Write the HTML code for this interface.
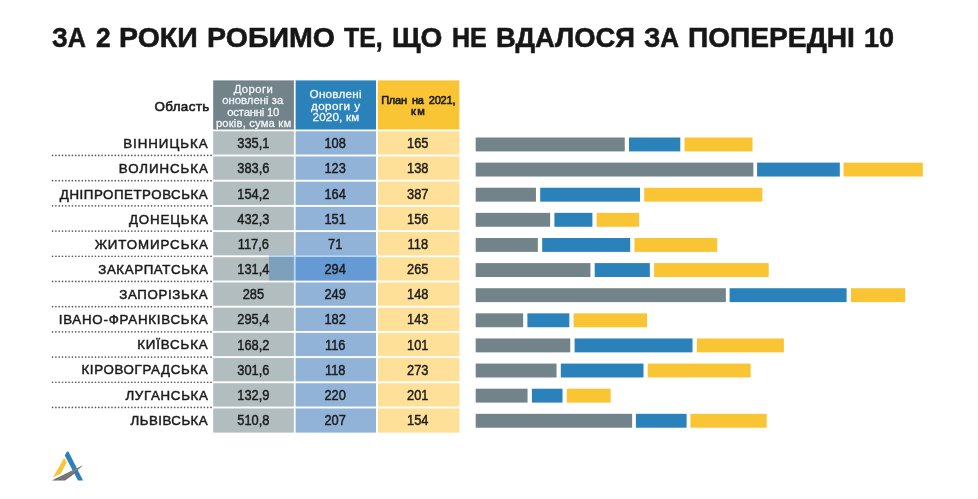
<!DOCTYPE html>
<html lang="uk"><head><meta charset="utf-8"><title>За 2 роки робимо те, що не вдалося за попередні 10</title>
<style>
html,body{margin:0;padding:0;background:#fff;}
body{width:978px;height:499px;position:relative;overflow:hidden;font-family:"Liberation Sans",sans-serif;color:#1c1c1c;}
#pg{position:absolute;left:0;top:0;width:978px;height:499px;filter:blur(0.45px);}
.abs{position:absolute;}
h1{position:absolute;left:0;top:21.2px;width:978px;height:34px;margin:0;font-size:26.8px;line-height:34px;font-weight:bold;white-space:nowrap;color:#171717;}
h1 span{position:absolute;top:0;transform-origin:0 50%;-webkit-text-stroke:0.55px #171717;}
.hc{position:absolute;top:80.4px;height:49.1px;}
.hc span{display:block;position:absolute;white-space:nowrap;}
.lab{position:absolute;font-size:13.3px;line-height:23.4px;height:23.4px;white-space:nowrap;-webkit-text-stroke:0.5px #1c1c1c;}
.cell{position:absolute;height:23.4px;line-height:25.4px;text-align:center;font-size:13.8px;transform:scaleX(0.93);-webkit-text-stroke:0.45px #1c1c1c;}
</style></head><body><div id="pg">
<h1><span style="left:52.44px;transform:scaleX(0.9398);">ЗА</span> <span style="left:95.91px;transform:scaleX(0.9834);">2</span> <span style="left:119.09px;transform:scaleX(1.0636);">РОКИ</span> <span style="left:207.49px;transform:scaleX(1.0655);">РОБИМО</span> <span style="left:344.49px;transform:scaleX(0.926);">ТЕ,</span> <span style="left:391.71px;transform:scaleX(1.0463);">ЩО</span> <span style="left:451.57px;transform:scaleX(0.9348);">НЕ</span> <span style="left:496.25px;transform:scaleX(1.022);">ВДАЛОСЯ</span> <span style="left:644.23px;transform:scaleX(0.9711);">ЗА</span> <span style="left:688.21px;transform:scaleX(1.05);">ПОПЕРЕДНІ</span> <span style="left:863.67px;transform:scaleX(1.0088);">10</span></h1>
<svg class="abs" style="left:0;top:0;" width="978" height="499" viewBox="0 0 978 499">
<rect x="213.20" y="80.40" width="80.70" height="49.10" fill="#72838a"/>
<rect x="295.60" y="80.40" width="80.40" height="49.10" fill="#2b81b9"/>
<rect x="377.80" y="80.40" width="81.60" height="49.10" fill="#f9c535"/>
<rect x="213.20" y="131.25" width="80.70" height="23.30" fill="#b1bdbe"/>
<rect x="295.60" y="131.25" width="80.40" height="23.30" fill="#91b3d8"/>
<rect x="377.80" y="131.25" width="81.60" height="23.30" fill="#fee098"/>
<line x1="52.6" x2="211.4" y1="155.45" y2="155.45" stroke="#5e5e5e" stroke-width="1.7" stroke-linecap="round" stroke-dasharray="0 3.3"/>
<rect x="475.70" y="137.50" width="149.05" height="13.90" fill="#72838a"/>
<rect x="629.00" y="137.50" width="51.30" height="13.90" fill="#2b81b9"/>
<rect x="684.50" y="137.50" width="68.00" height="13.90" fill="#f9c535"/>
<rect x="213.20" y="156.45" width="80.70" height="23.30" fill="#b1bdbe"/>
<rect x="295.60" y="156.45" width="80.40" height="23.30" fill="#91b3d8"/>
<rect x="377.80" y="156.45" width="81.60" height="23.30" fill="#fee098"/>
<line x1="52.6" x2="211.4" y1="180.65" y2="180.65" stroke="#5e5e5e" stroke-width="1.7" stroke-linecap="round" stroke-dasharray="0 3.3"/>
<rect x="475.70" y="162.62" width="277.65" height="13.90" fill="#72838a"/>
<rect x="757.10" y="162.62" width="82.70" height="13.90" fill="#2b81b9"/>
<rect x="843.50" y="162.62" width="79.30" height="13.90" fill="#f9c535"/>
<rect x="213.20" y="181.65" width="80.70" height="23.30" fill="#b1bdbe"/>
<rect x="295.60" y="181.65" width="80.40" height="23.30" fill="#91b3d8"/>
<rect x="377.80" y="181.65" width="81.60" height="23.30" fill="#fee098"/>
<line x1="52.6" x2="211.4" y1="205.85" y2="205.85" stroke="#5e5e5e" stroke-width="1.7" stroke-linecap="round" stroke-dasharray="0 3.3"/>
<rect x="475.70" y="187.74" width="60.25" height="13.90" fill="#72838a"/>
<rect x="540.20" y="187.74" width="99.80" height="13.90" fill="#2b81b9"/>
<rect x="644.20" y="187.74" width="118.10" height="13.90" fill="#f9c535"/>
<rect x="213.20" y="206.85" width="80.70" height="23.30" fill="#b1bdbe"/>
<rect x="295.60" y="206.85" width="80.40" height="23.30" fill="#91b3d8"/>
<rect x="377.80" y="206.85" width="81.60" height="23.30" fill="#fee098"/>
<line x1="52.6" x2="211.4" y1="231.05" y2="231.05" stroke="#5e5e5e" stroke-width="1.7" stroke-linecap="round" stroke-dasharray="0 3.3"/>
<rect x="475.70" y="212.86" width="74.45" height="13.90" fill="#72838a"/>
<rect x="554.40" y="212.86" width="38.00" height="13.90" fill="#2b81b9"/>
<rect x="596.60" y="212.86" width="42.50" height="13.90" fill="#f9c535"/>
<rect x="213.20" y="232.05" width="80.70" height="23.30" fill="#b1bdbe"/>
<rect x="295.60" y="232.05" width="80.40" height="23.30" fill="#91b3d8"/>
<rect x="377.80" y="232.05" width="81.60" height="23.30" fill="#fee098"/>
<line x1="52.6" x2="211.4" y1="256.25" y2="256.25" stroke="#5e5e5e" stroke-width="1.7" stroke-linecap="round" stroke-dasharray="0 3.3"/>
<rect x="475.70" y="237.98" width="62.15" height="13.90" fill="#72838a"/>
<rect x="542.20" y="237.98" width="88.00" height="13.90" fill="#2b81b9"/>
<rect x="634.40" y="237.98" width="82.80" height="13.90" fill="#f9c535"/>
<rect x="213.20" y="257.25" width="80.70" height="23.30" fill="#b1bdbe"/>
<rect x="295.60" y="257.25" width="80.40" height="23.30" fill="#91b3d8"/>
<rect x="377.80" y="257.25" width="81.60" height="23.30" fill="#fee098"/>
<line x1="52.6" x2="211.4" y1="281.45" y2="281.45" stroke="#5e5e5e" stroke-width="1.7" stroke-linecap="round" stroke-dasharray="0 3.3"/>
<rect x="475.70" y="263.10" width="114.75" height="13.90" fill="#72838a"/>
<rect x="594.70" y="263.10" width="55.10" height="13.90" fill="#2b81b9"/>
<rect x="654.10" y="263.10" width="114.60" height="13.90" fill="#f9c535"/>
<rect x="213.20" y="282.45" width="80.70" height="23.30" fill="#b1bdbe"/>
<rect x="295.60" y="282.45" width="80.40" height="23.30" fill="#91b3d8"/>
<rect x="377.80" y="282.45" width="81.60" height="23.30" fill="#fee098"/>
<line x1="52.6" x2="211.4" y1="306.65" y2="306.65" stroke="#5e5e5e" stroke-width="1.7" stroke-linecap="round" stroke-dasharray="0 3.3"/>
<rect x="475.70" y="288.22" width="250.15" height="13.90" fill="#72838a"/>
<rect x="729.60" y="288.22" width="117.00" height="13.90" fill="#2b81b9"/>
<rect x="850.90" y="288.22" width="54.30" height="13.90" fill="#f9c535"/>
<rect x="213.20" y="307.65" width="80.70" height="23.30" fill="#b1bdbe"/>
<rect x="295.60" y="307.65" width="80.40" height="23.30" fill="#91b3d8"/>
<rect x="377.80" y="307.65" width="81.60" height="23.30" fill="#fee098"/>
<line x1="52.6" x2="211.4" y1="331.85" y2="331.85" stroke="#5e5e5e" stroke-width="1.7" stroke-linecap="round" stroke-dasharray="0 3.3"/>
<rect x="475.70" y="313.34" width="47.45" height="13.90" fill="#72838a"/>
<rect x="527.40" y="313.34" width="41.90" height="13.90" fill="#2b81b9"/>
<rect x="573.60" y="313.34" width="73.40" height="13.90" fill="#f9c535"/>
<rect x="213.20" y="332.85" width="80.70" height="23.30" fill="#b1bdbe"/>
<rect x="295.60" y="332.85" width="80.40" height="23.30" fill="#91b3d8"/>
<rect x="377.80" y="332.85" width="81.60" height="23.30" fill="#fee098"/>
<line x1="52.6" x2="211.4" y1="357.05" y2="357.05" stroke="#5e5e5e" stroke-width="1.7" stroke-linecap="round" stroke-dasharray="0 3.3"/>
<rect x="475.70" y="338.46" width="94.55" height="13.90" fill="#72838a"/>
<rect x="574.60" y="338.46" width="117.90" height="13.90" fill="#2b81b9"/>
<rect x="696.80" y="338.46" width="87.10" height="13.90" fill="#f9c535"/>
<rect x="213.20" y="358.05" width="80.70" height="23.30" fill="#b1bdbe"/>
<rect x="295.60" y="358.05" width="80.40" height="23.30" fill="#91b3d8"/>
<rect x="377.80" y="358.05" width="81.60" height="23.30" fill="#fee098"/>
<line x1="52.6" x2="211.4" y1="382.25" y2="382.25" stroke="#5e5e5e" stroke-width="1.7" stroke-linecap="round" stroke-dasharray="0 3.3"/>
<rect x="475.70" y="363.58" width="80.85" height="13.90" fill="#72838a"/>
<rect x="560.80" y="363.58" width="82.70" height="13.90" fill="#2b81b9"/>
<rect x="647.70" y="363.58" width="102.90" height="13.90" fill="#f9c535"/>
<rect x="213.20" y="383.25" width="80.70" height="23.30" fill="#b1bdbe"/>
<rect x="295.60" y="383.25" width="80.40" height="23.30" fill="#91b3d8"/>
<rect x="377.80" y="383.25" width="81.60" height="23.30" fill="#fee098"/>
<line x1="52.6" x2="211.4" y1="407.45" y2="407.45" stroke="#5e5e5e" stroke-width="1.7" stroke-linecap="round" stroke-dasharray="0 3.3"/>
<rect x="475.70" y="388.70" width="51.85" height="13.90" fill="#72838a"/>
<rect x="531.90" y="388.70" width="30.60" height="13.90" fill="#2b81b9"/>
<rect x="566.70" y="388.70" width="44.00" height="13.90" fill="#f9c535"/>
<rect x="213.20" y="408.45" width="80.70" height="24.15" fill="#b1bdbe"/>
<rect x="295.60" y="408.45" width="80.40" height="24.15" fill="#91b3d8"/>
<rect x="377.80" y="408.45" width="81.60" height="24.15" fill="#fee098"/>
<rect x="475.70" y="413.82" width="156.45" height="13.90" fill="#72838a"/>
<rect x="635.90" y="413.82" width="50.70" height="13.90" fill="#2b81b9"/>
<rect x="690.40" y="413.82" width="76.30" height="13.90" fill="#f9c535"/>
<rect x="269.00" y="255.50" width="24.90" height="24.90" fill="#7da0bd"/>
<rect x="293.90" y="255.50" width="1.70" height="24.90" fill="#b6d8fc"/>
<rect x="295.60" y="255.50" width="80.40" height="24.90" fill="#669ad4"/>
<rect x="376.00" y="255.50" width="1.20" height="24.90" fill="#b6d8fc"/>
<rect x="269.00" y="255.50" width="108.20" height="1.50" fill="#b6d8fc"/>
</svg>
<div class="abs" style="left:154.52px;top:96.7px;height:20px;line-height:20px;white-space:nowrap;font-size:13.4px;letter-spacing:0.35px;-webkit-text-stroke:0.6px #1c1c1c;">Область</div>
<div class="hc" style="left:213.2px;width:80.7px;color:#f2f5f6;font-size:11.3px;line-height:11.4px;-webkit-text-stroke:0.3px #f2f5f6;"><span style="top:3.63px;left:20.45px;letter-spacing:0.41px;word-spacing:0px;">Дороги</span> <span style="top:15.03px;left:9.02px;letter-spacing:0.03px;word-spacing:0px;">оновлені за</span> <span style="top:26.43px;left:14.12px;letter-spacing:-0.21px;word-spacing:0px;">останні 10</span> <span style="top:37.83px;left:2.69px;letter-spacing:0.15px;word-spacing:0px;">років, сума км</span> </div>
<div class="hc" style="left:295.6px;width:80.4px;color:#f4f8fb;font-size:11.7px;line-height:11.6px;-webkit-text-stroke:0.3px #f4f8fb;"><span style="top:7.75px;left:13.98px;letter-spacing:0.25px;word-spacing:0px;">Оновлені</span> <span style="top:19.35px;left:15.34px;letter-spacing:0.42px;word-spacing:0px;">дороги у</span> <span style="top:30.95px;left:16.90px;letter-spacing:0.16px;word-spacing:0px;">2020, км</span> </div>
<div class="hc" style="left:377.8px;width:81.6px;color:#1c1c1c;font-size:11.0px;line-height:11.3px;-webkit-text-stroke:0.6px #1c1c1c;"><span style="top:14.34px;left:3.37px;letter-spacing:-0.2px;word-spacing:2.2px;">План на 2021,</span> <span style="top:25.64px;left:33.17px;letter-spacing:1.49px;word-spacing:2.2px;">км</span> </div>
<div class="lab" style="top:132.30px;left:123.15px;letter-spacing:0.99px;">ВІННИЦЬКА</div>
<div class="cell" style="left:212.5px;width:80.7px;top:131.30px;">335,1</div>
<div class="cell" style="left:294.90000000000003px;width:80.4px;top:131.30px;">108</div>
<div class="cell" style="left:377.1px;width:81.6px;top:131.30px;">165</div>
<div class="lab" style="top:157.43px;left:118.75px;letter-spacing:0.95px;">ВОЛИНСЬКА</div>
<div class="cell" style="left:212.5px;width:80.7px;top:156.45px;">383,6</div>
<div class="cell" style="left:294.90000000000003px;width:80.4px;top:156.45px;">123</div>
<div class="cell" style="left:377.1px;width:81.6px;top:156.45px;">138</div>
<div class="lab" style="top:182.56px;left:59.85px;letter-spacing:0.55px;">ДНІПРОПЕТРОВСЬКА</div>
<div class="cell" style="left:212.5px;width:80.7px;top:181.60px;">154,2</div>
<div class="cell" style="left:294.90000000000003px;width:80.4px;top:181.60px;">164</div>
<div class="cell" style="left:377.1px;width:81.6px;top:181.60px;">387</div>
<div class="lab" style="top:207.69px;left:128.95px;letter-spacing:0.85px;">ДОНЕЦЬКА</div>
<div class="cell" style="left:212.5px;width:80.7px;top:206.75px;">432,3</div>
<div class="cell" style="left:294.90000000000003px;width:80.4px;top:206.75px;">151</div>
<div class="cell" style="left:377.1px;width:81.6px;top:206.75px;">156</div>
<div class="lab" style="top:232.82px;left:94.64px;letter-spacing:0.92px;">ЖИТОМИРСЬКА</div>
<div class="cell" style="left:212.5px;width:80.7px;top:231.90px;">117,6</div>
<div class="cell" style="left:294.90000000000003px;width:80.4px;top:231.90px;">71</div>
<div class="cell" style="left:377.1px;width:81.6px;top:231.90px;">118</div>
<div class="lab" style="top:257.95px;left:98.26px;letter-spacing:0.61px;">ЗАКАРПАТСЬКА</div>
<div class="cell" style="left:212.5px;width:80.7px;top:257.05px;">131,4</div>
<div class="cell" style="left:294.90000000000003px;width:80.4px;top:257.05px;">294</div>
<div class="cell" style="left:377.1px;width:81.6px;top:257.05px;">265</div>
<div class="lab" style="top:283.08px;left:119.36px;letter-spacing:0.63px;">ЗАПОРІЗЬКА</div>
<div class="cell" style="left:212.5px;width:80.7px;top:282.20px;">285</div>
<div class="cell" style="left:294.90000000000003px;width:80.4px;top:282.20px;">249</div>
<div class="cell" style="left:377.1px;width:81.6px;top:282.20px;">148</div>
<div class="lab" style="top:308.21px;left:58.7px;letter-spacing:0.77px;">ІВАНО-ФРАНКІВСЬКА</div>
<div class="cell" style="left:212.5px;width:80.7px;top:307.35px;">295,4</div>
<div class="cell" style="left:294.90000000000003px;width:80.4px;top:307.35px;">182</div>
<div class="cell" style="left:377.1px;width:81.6px;top:307.35px;">143</div>
<div class="lab" style="top:333.34px;left:137.15px;letter-spacing:0.88px;">КИЇВСЬКА</div>
<div class="cell" style="left:212.5px;width:80.7px;top:332.50px;">168,2</div>
<div class="cell" style="left:294.90000000000003px;width:80.4px;top:332.50px;">116</div>
<div class="cell" style="left:377.1px;width:81.6px;top:332.50px;">101</div>
<div class="lab" style="top:358.47px;left:81.45px;letter-spacing:0.66px;">КІРОВОГРАДСЬКА</div>
<div class="cell" style="left:212.5px;width:80.7px;top:357.65px;">301,6</div>
<div class="cell" style="left:294.90000000000003px;width:80.4px;top:357.65px;">118</div>
<div class="cell" style="left:377.1px;width:81.6px;top:357.65px;">273</div>
<div class="lab" style="top:383.60px;left:125.46px;letter-spacing:0.69px;">ЛУГАНСЬКА</div>
<div class="cell" style="left:212.5px;width:80.7px;top:382.80px;">132,9</div>
<div class="cell" style="left:294.90000000000003px;width:80.4px;top:382.80px;">220</div>
<div class="cell" style="left:377.1px;width:81.6px;top:382.80px;">201</div>
<div class="lab" style="top:408.73px;left:130.56px;letter-spacing:0.47px;">ЛЬВІВСЬКА</div>
<div class="cell" style="left:212.5px;width:80.7px;top:407.95px;">510,8</div>
<div class="cell" style="left:294.90000000000003px;width:80.4px;top:407.95px;">207</div>
<div class="cell" style="left:377.1px;width:81.6px;top:407.95px;">154</div>
<svg class="abs" style="left:48px;top:446px;" width="42" height="40" viewBox="48 446 42 40">
<polygon points="67.0,451.4 68.4,451.6 83.1,480.4 78.0,480.4 64.8,455.4" fill="#2b81b9"/>
<polygon points="64.1,458.0 66.8,462.2 60.8,473.6 53.0,477.6" fill="#f9c535"/>
<path d="M51.8,480.5 L65,480.5 Q74.6,474.4 82.5,465.4 Q67,472.9 51.8,480.5 Z" fill="#6a6a6a"/>
<path d="M56.5,480.3 Q70,473.2 81.8,465.9" fill="none" stroke="#a4a4a4" stroke-width="0.45"/>
<path d="M61,480.3 Q72.6,473.6 82,465.8" fill="none" stroke="#a4a4a4" stroke-width="0.45"/>
</svg>
</div></body></html>
